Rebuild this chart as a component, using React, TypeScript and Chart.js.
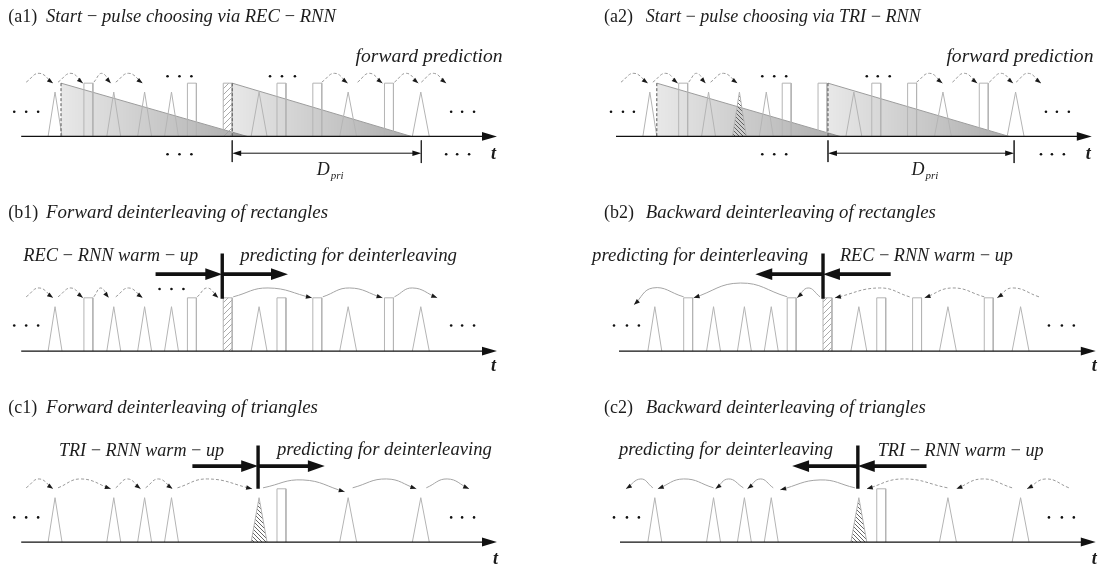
import React, { useEffect, useRef } from 'react';
import { Chart, registerables } from 'chart.js';

Chart.register(...registerables);

type Span = [number, number];
type Arc = number[]; // [start t, peak t, end t, peak level?, end level?]
type Dot = [number, number]; // [t, level]

/* ---------------- pulse train (time units along the t axis) ---------------- */
const TRI_PULSES: Span[] = [[47, 61], [106, 120], [137, 151], [164, 178], [251, 267], [340, 357], [413, 430]];
const REC_PULSES: Span[] = [[83, 92], [187, 196], [223, 232], [277, 286], [313, 322], [385, 394]];
const TRI_AMPLITUDE = 45;
const REC_AMPLITUDE = 54;
const ALL_TRI = [0, 1, 2, 3, 4, 5, 6];
const ALL_REC = [0, 1, 2, 3, 4, 5];
const ROW_C_REC = [3];

/* ---------------- prediction arcs ---------------- */
const ARC_LEVELS = [55, 64, 54];
const A_WARMUP_ARCS: Arc[] = [[25, 38, 52], [57, 70, 82], [93, 101, 110], [115, 128, 142]];
const A_FORWARD_ARCS: Arc[] = [[322, 335, 348], [358, 370, 383], [395, 407, 419], [422, 434, 447]];
const B1_WARMUP_ARCS: Arc[] = [[25, 38, 52], [57, 70, 82], [93, 100, 108], [115, 128, 142], [197, 207, 218]];
const B1_PREDICT_ARCS: Arc[] = [[233, 268, 312], [323, 350, 383], [395, 413, 438]];
const B2_PREDICT_ARCS: Arc[] = [[220, 208, 197], [187, 140, 93, 69], [83, 52, 33, 64, 47]];
const B2_WARMUP_ARCS: Arc[] = [[310, 280, 235], [385, 353, 325], [440, 413, 398]];
const C1_WARMUP_ARCS: Arc[] = [[25, 38, 52], [57, 80, 110], [115, 127, 140], [145, 158, 172], [177, 207, 252]];
const C1_PREDICT_ARCS: Arc[] = [[263, 303, 345, 63, 51], [353, 387, 417], [427, 448, 470]];
const C2_PREDICT_ARCS: Arc[] = [[255, 220, 180, 63, 53], [173, 160, 147], [143, 128, 115], [113, 83, 57], [52, 40, 25]];
const C2_WARMUP_ARCS: Arc[] = [[348, 303, 267], [413, 383, 357], [470, 447, 428]];

/* ---------------- ellipsis dots ---------------- */
const A1_DOTS: Dot[] = [[13, 25], [25, 25], [37, 25], [167, 61], [179, 61], [191, 61], [270, 61], [282, 61], [295, 61], [452, 25], [463, 25], [475, 25], [167, -18], [179, -18], [191, -18], [447, -18], [458, -18], [470, -18]];
const A2_DOTS: Dot[] = [[15, 25], [27, 25], [38, 25], [167, 61], [179, 61], [191, 61], [272, 61], [283, 61], [295, 61], [452, 25], [463, 25], [475, 25], [167, -18], [179, -18], [191, -18], [447, -18], [458, -18], [470, -18]];
const B1_DOTS: Dot[] = [[13, 26], [25, 26], [37, 26], [159, 63], [171, 63], [183, 63], [452, 26], [463, 26], [475, 26]];
const B2_DOTS: Dot[] = [[13, 26], [26, 26], [38, 26], [450, 26], [463, 26], [475, 26]];
const C1_DOTS: Dot[] = [[13, 25], [25, 25], [37, 25], [452, 25], [463, 25], [475, 25]];
const C2_DOTS: Dot[] = [[13, 25], [26, 25], [38, 25], [450, 25], [463, 25], [475, 25]];

/* ---------------- axes, shades, intervals, arrows ---------------- */
const AXIS_A1: Span = [20, 498];
const AXIS_A2: Span = [20, 498];
const AXIS_B1: Span = [20, 498];
const AXIS_B2: Span = [18, 497];
const AXIS_C1: Span = [20, 498];
const AXIS_C2: Span = [19, 497];
const A1_SHADES: Span[] = [[60, 247], [232, 412]];
const A2_SHADES: Span[] = [[61, 245], [233, 415]];
const A1_DPRI: Span = [232, 422];
const A2_DPRI: Span = [233, 420];
const B1_ARROWS: Span[] = [[155, 222], [222, 288]];
const B2_ARROWS: Span[] = [[223, 155], [291, 223]];
const C1_ARROWS: Span[] = [[192, 258], [258, 325]];
const C2_ARROWS: Span[] = [[258, 192], [327, 258]];
const B_ARROW_LEVEL = 78;
const C_ARROW_LEVEL = 77;
const B_DIVIDER_RANGE: Span = [53, 99];
const C_DIVIDER_RANGE: Span = [54, 98];

/* ---------------- texts ---------------- */
interface TextItem { text: string; x: number; h: number; size: number; w?: number; italic?: boolean; bold?: boolean; }
const TS = '\u2009−\u2009';
const TEXT_A1: TextItem[] = [
  { text: '(a1)', x: 7, h: 116, size: 18 },
  { text: `Start${TS}pulse choosing via REC${TS}RNN`, x: 45, h: 116, size: 17, w: 290, italic: true },
  { text: 'forward prediction', x: 356, h: 75, size: 17, w: 147, italic: true },
  { text: 't', x: 492, h: -23, size: 18, italic: true, bold: true },
  { text: 'D', x: 317, h: -39, size: 18, italic: true },
  { text: 'pri', x: 331, h: -43, size: 11, italic: true },
];
const TEXT_A2: TextItem[] = [
  { text: '(a2)', x: 8, h: 116, size: 18 },
  { text: `Start${TS}pulse choosing via TRI${TS}RNN`, x: 50, h: 116, size: 17, w: 275, italic: true },
  { text: 'forward prediction', x: 352, h: 75, size: 17, w: 147, italic: true },
  { text: 't', x: 492, h: -23, size: 18, italic: true, bold: true },
  { text: 'D', x: 317, h: -39, size: 18, italic: true },
  { text: 'pri', x: 331, h: -43, size: 11, italic: true },
];
const TEXT_B1: TextItem[] = [
  { text: '(b1)', x: 7, h: 135, size: 18 },
  { text: 'Forward deinterleaving of rectangles', x: 45, h: 135, size: 17, w: 282, italic: true },
  { text: `REC${TS}RNN warm${TS}up`, x: 22, h: 91, size: 19, w: 175, italic: true },
  { text: 'predicting for deinterleaving', x: 240, h: 91, size: 19, w: 217, italic: true },
  { text: 't', x: 492, h: -20, size: 18, italic: true, bold: true },
];
const TEXT_B2: TextItem[] = [
  { text: '(b2)', x: 3, h: 135, size: 18 },
  { text: 'Backward deinterleaving of rectangles', x: 45, h: 135, size: 17, w: 290, italic: true },
  { text: 'predicting for deinterleaving', x: -9, h: 91, size: 19, w: 216, italic: true },
  { text: `REC${TS}RNN warm${TS}up`, x: 240, h: 91, size: 19, w: 173, italic: true },
  { text: 't', x: 493, h: -20, size: 18, italic: true, bold: true },
];
const TEXT_C1: TextItem[] = [
  { text: '(c1)', x: 7, h: 131, size: 18 },
  { text: 'Forward deinterleaving of triangles', x: 45, h: 131, size: 17, w: 272, italic: true },
  { text: `TRI${TS}RNN warm${TS}up`, x: 58, h: 87, size: 19, w: 165, italic: true },
  { text: 'predicting for deinterleaving', x: 277, h: 88, size: 19, w: 215, italic: true },
  { text: 't', x: 494, h: -22, size: 18, italic: true, bold: true },
];
const TEXT_C2: TextItem[] = [
  { text: '(c2)', x: 3, h: 131, size: 18 },
  { text: 'Backward deinterleaving of triangles', x: 45, h: 131, size: 17, w: 280, italic: true },
  { text: 'predicting for deinterleaving', x: 18, h: 88, size: 19, w: 214, italic: true },
  { text: `TRI${TS}RNN warm${TS}up`, x: 278, h: 87, size: 19, w: 166, italic: true },
  { text: 't', x: 493, h: -22, size: 18, italic: true, bold: true },
];

/* ---------------- panel layout ---------------- */
interface PanelSpec {
  left: number; top: number; width: number; height: number; origin: number; axisY: number;
  tri: number[]; rec: number[]; hatchTri: number[]; hatchRec: number[];
  shades: Span[]; dashedArcs: Arc[]; solidArcs: Arc[]; dots: Dot[]; axis: Span;
  dpri?: Span; arrows: Span[]; divider?: number; arrowLevel: number; dividerRange: Span;
  texts: TextItem[];
}

const PANELS: PanelSpec[] = [
  { left: 0, top: 0, width: 551, height: 190, origin: 0, axisY: 137, tri: ALL_TRI, rec: ALL_REC, hatchTri: [], hatchRec: [2],
    shades: A1_SHADES, dashedArcs: [...A_WARMUP_ARCS, ...A_FORWARD_ARCS], solidArcs: [], dots: A1_DOTS, axis: AXIS_A1,
    dpri: A1_DPRI, arrows: [], arrowLevel: 0, dividerRange: [0, 0], texts: TEXT_A1 },
  { left: 551, top: 0, width: 552, height: 190, origin: 595, axisY: 137, tri: ALL_TRI, rec: ALL_REC, hatchTri: [2], hatchRec: [],
    shades: A2_SHADES, dashedArcs: [...A_WARMUP_ARCS, ...A_FORWARD_ARCS], solidArcs: [], dots: A2_DOTS, axis: AXIS_A2,
    dpri: A2_DPRI, arrows: [], arrowLevel: 0, dividerRange: [0, 0], texts: TEXT_A2 },
  { left: 0, top: 190, width: 551, height: 190, origin: 0, axisY: 162, tri: ALL_TRI, rec: ALL_REC, hatchTri: [], hatchRec: [2],
    shades: [], dashedArcs: B1_WARMUP_ARCS, solidArcs: B1_PREDICT_ARCS, dots: B1_DOTS, axis: AXIS_B1,
    arrows: B1_ARROWS, divider: 222, arrowLevel: B_ARROW_LEVEL, dividerRange: B_DIVIDER_RANGE, texts: TEXT_B1 },
  { left: 551, top: 190, width: 552, height: 190, origin: 600, axisY: 162, tri: ALL_TRI, rec: ALL_REC, hatchTri: [], hatchRec: [2],
    shades: [], dashedArcs: B2_WARMUP_ARCS, solidArcs: B2_PREDICT_ARCS, dots: B2_DOTS, axis: AXIS_B2,
    arrows: B2_ARROWS, divider: 223, arrowLevel: B_ARROW_LEVEL, dividerRange: B_DIVIDER_RANGE, texts: TEXT_B2 },
  { left: 0, top: 380, width: 551, height: 189, origin: 0, axisY: 163, tri: ALL_TRI, rec: ROW_C_REC, hatchTri: [4], hatchRec: [],
    shades: [], dashedArcs: C1_WARMUP_ARCS, solidArcs: C1_PREDICT_ARCS, dots: C1_DOTS, axis: AXIS_C1,
    arrows: C1_ARROWS, divider: 258, arrowLevel: C_ARROW_LEVEL, dividerRange: C_DIVIDER_RANGE, texts: TEXT_C1 },
  { left: 551, top: 380, width: 552, height: 189, origin: 600, axisY: 163, tri: ALL_TRI, rec: ROW_C_REC, hatchTri: [4], hatchRec: [],
    shades: [], dashedArcs: C2_WARMUP_ARCS, solidArcs: C2_PREDICT_ARCS, dots: C2_DOTS, axis: AXIS_C2,
    arrows: C2_ARROWS, divider: 258, arrowLevel: C_ARROW_LEVEL, dividerRange: C_DIVIDER_RANGE, texts: TEXT_C2 },
];

/* ---------------- helpers ---------------- */
const FONT = '"Liberation Serif", "Times New Roman", serif';
const P = (x: number, y: number | null) => ({ x, y });

function arrowHead(tx: number, ty: number, dx: number, dy: number, len: number, half: number) {
  const n = Math.hypot(dx, dy) || 1;
  const ux = dx / n, uy = dy / n;
  const bx = tx - ux * len, by = ty - uy * len;
  return [P(bx - uy * half, by + ux * half), P(tx, ty), P(bx + uy * half, by - ux * half)];
}

function joined(groups: { x: number; y: number | null }[][]) {
  const out: { x: number; y: number | null }[] = [];
  groups.forEach((g, k) => {
    if (k) out.push(P(g[0].x, null));
    out.push(...g);
  });
  return out;
}

function makeHatch(ctx: CanvasRenderingContext2D, dir: number, color: string, step: number) {
  const c = document.createElement('canvas');
  c.width = step; c.height = step;
  const g = c.getContext('2d')!;
  g.strokeStyle = color; g.lineWidth = 0.9;
  g.beginPath();
  if (dir > 0) {
    g.moveTo(-1, step + 1); g.lineTo(step + 1, -1);
    g.moveTo(-1, 1); g.lineTo(1, -1);
    g.moveTo(step - 1, step + 1); g.lineTo(step + 1, step - 1);
  } else {
    g.moveTo(-1, -1); g.lineTo(step + 1, step + 1);
    g.moveTo(step - 1, -1); g.lineTo(step + 1, 1);
    g.moveTo(-1, step - 1); g.lineTo(1, step + 1);
  }
  g.stroke();
  return ctx.createPattern(c, 'repeat');
}

function buildDatasets(s: PanelSpec, hatchRec: any, hatchTri: any) {
  const L: any[] = [];
  const line = (data: any[], extra: any = {}) =>
    L.push({ data, fill: false, borderColor: '#111', borderWidth: 1, pointRadius: 0, tension: 0, ...extra });
  const shape = (data: any[], color: any, extra: any = {}) =>
    L.push({ data, fill: 'shape', backgroundColor: color, borderColor: 'transparent', borderWidth: 0, pointRadius: 0, tension: 0, ...extra });

  const triPts = (i: number) => {
    const [a, b] = TRI_PULSES[i];
    return [P(a, 0), P((a + b) / 2, TRI_AMPLITUDE), P(b, 0)];
  };
  const recPts = (i: number) => {
    const [a, b] = REC_PULSES[i];
    return [P(a, 0), P(a, REC_AMPLITUDE), P(b, REC_AMPLITUDE), P(b, 0)];
  };

  // shaded start-pulse windows
  for (const [x0, x1] of s.shades) {
    shape([P(x0, REC_AMPLITUDE), P(x1, 0), P(x0, 0)], (c: any) => {
      const xs = c.chart.scales?.x;
      const p0 = xs ? xs.getPixelForValue(x0) : NaN;
      const p1 = xs ? xs.getPixelForValue(x1) : NaN;
      if (!Number.isFinite(p0) || !Number.isFinite(p1)) return 'rgba(0,0,0,0.18)';
      const g = c.chart.ctx.createLinearGradient(p0, 0, p1, 0);
      g.addColorStop(0, 'rgba(0,0,0,0.09)');
      g.addColorStop(1, 'rgba(0,0,0,0.32)');
      return g;
    }, { borderColor: '#9c9c9c', borderWidth: 1 });
  }
  // hatched start pulses
  s.hatchRec.forEach((i) => shape(recPts(i), hatchRec));
  s.hatchTri.forEach((i) => shape(triPts(i), hatchTri));
  // pulse outlines
  line(joined(s.tri.map(triPts)), { borderColor: '#b4b4b4' });
  line(joined(s.rec.map(recPts)), { borderColor: '#b4b4b4' });
  // dashed edges of the shaded windows
  for (const [x0] of s.shades) line([P(x0, REC_AMPLITUDE), P(x0, 0)], { borderColor: '#555', borderDash: [3, 2] });

  // arcs
  const heads: any[] = [];
  const addArcs = (arcs: Arc[], dashed: boolean) => arcs.forEach((a) => {
    const [x0, xp, x1] = a;
    const hp = a[3] ?? ARC_LEVELS[1];
    const h1 = a[4] ?? ARC_LEVELS[2];
    line([P(x0, ARC_LEVELS[0]), P(xp, hp), P(x1, h1)], {
      borderColor: dashed ? '#9a9a9a' : '#a4a4a4', borderDash: dashed ? [3, 2] : [], tension: 0.45,
    });
    heads.push(arrowHead(x1, h1, x1 - xp, h1 - hp, 6, 2.3));
  });
  addArcs(s.dashedArcs, true);
  addArcs(s.solidArcs, false);
  if (heads.length) shape(joined(heads), '#1a1a1a');

  // dots
  L.push({ data: s.dots.map(([x, h]) => P(x, h)), showLine: false, fill: false, pointRadius: 1.3,
    pointBackgroundColor: '#111', pointBorderColor: '#111', pointBorderWidth: 0, borderColor: '#111' });

  // time axis
  const [a0, a1] = s.axis;
  line([P(a0, 0), P(a1 - 13, 0)], { borderColor: '#111', borderWidth: 1.3 });
  shape(arrowHead(a1, 0, 1, 0, 15, 4.5), '#111');

  // D_pri interval
  if (s.dpri) {
    const [d0, d1] = s.dpri;
    line([P(d0 + 5, -17), P(d1 - 5, -17)], { borderColor: '#111', borderWidth: 1 });
    shape(joined([arrowHead(d0, -17, -1, 0, 9, 2.8), arrowHead(d1, -17, 1, 0, 9, 2.8)]), '#111');
    line([P(d0, -4), P(d0, -26)], { borderColor: '#222', borderWidth: 0.8 });
    line([P(d1, -4), P(d1, -27)], { borderColor: '#222', borderWidth: 0.8 });
  }

  // thick warm-up / predicting arrows
  const lv = s.arrowLevel;
  for (const [from, to] of s.arrows) {
    const dir = Math.sign(to - from);
    line([P(from, lv), P(to - dir * 15, lv)], { borderColor: '#111', borderWidth: 3.6 });
    shape(arrowHead(to, lv, dir, 0, 17, 6), '#111');
  }
  if (s.divider !== undefined) {
    line([P(s.divider, s.dividerRange[0]), P(s.divider, s.dividerRange[1])], { borderColor: '#111', borderWidth: 3.4 });
  }
  return L.reverse();
}

function textPlugin(items: TextItem[]) {
  return {
    id: 'panelText',
    afterDatasetsDraw(chart: any) {
      const ctx: CanvasRenderingContext2D = chart.ctx;
      const xs = chart.scales.x, ys = chart.scales.y;
      ctx.save();
      ctx.fillStyle = '#1c1c1c';
      ctx.textAlign = 'left';
      ctx.textBaseline = 'alphabetic';
      for (const t of items) {
        const style = `${t.italic ? 'italic ' : ''}${t.bold ? 'bold ' : ''}`;
        let size = t.size;
        ctx.font = `${style}${size}px ${FONT}`;
        if (t.w) {
          const m = ctx.measureText(t.text).width;
          if (m > 0) size = (size * t.w) / m;
          ctx.font = `${style}${size.toFixed(2)}px ${FONT}`;
        }
        ctx.fillText(t.text, xs.getPixelForValue(t.x), ys.getPixelForValue(t.h));
      }
      ctx.restore();
    },
  };
}

function Panel({ spec }: { spec: PanelSpec }) {
  const ref = useRef<HTMLCanvasElement>(null);
  useEffect(() => {
    const canvas = ref.current!;
    const ctx = canvas.getContext('2d')!;
    const hatchRec = makeHatch(ctx, 1, '#a0a0a0', 6);
    const hatchTri = makeHatch(ctx, -1, '#555', 4);
    const chart = new Chart(canvas, {
      type: 'line',
      data: { datasets: buildDatasets(spec, hatchRec, hatchTri) },
      options: {
        animation: false,
        responsive: false,
        maintainAspectRatio: false,
        events: [],
        layout: { padding: 0 },
        scales: {
          x: { type: 'linear', display: false, bounds: 'data', min: spec.left - spec.origin, max: spec.left + spec.width - spec.origin },
          y: { type: 'linear', display: false, bounds: 'data', min: spec.axisY - spec.height, max: spec.axisY },
        },
        plugins: { legend: { display: false }, tooltip: { enabled: false }, title: { display: false } },
        elements: { point: { radius: 0, hoverRadius: 0 }, line: { borderCapStyle: 'butt' } },
      } as any,
      plugins: [textPlugin(spec.texts)],
    });
    return () => chart.destroy();
  }, [spec]);
  return (
    <div style={{ position: 'absolute', left: spec.left, top: spec.top, width: spec.width, height: spec.height }}>
      <canvas ref={ref} width={spec.width} height={spec.height} style={{ display: 'block' }} />
    </div>
  );
}

export default function App() {
  return (
    <div style={{ position: 'absolute', left: 0, top: 0, width: 1103, height: 569, background: '#fff', overflow: 'hidden' }}>
      {PANELS.map((p, i) => <Panel key={i} spec={p} />)}
    </div>
  );
}
